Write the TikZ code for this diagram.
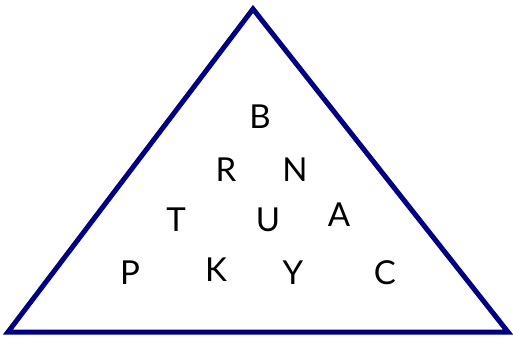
\documentclass[tikz,border=0pt]{standalone}
\usepackage{fontspec}
\setmainfont{Lato}
\definecolor{navyline}{RGB}{0,0,128}
\begin{document}
\begin{tikzpicture}[x=1pt,y=-1pt,
  letter/.style={font=\fontsize{33}{33}\selectfont, inner sep=0pt, anchor=center, text=black}]
\useasboundingbox[fill=white] (0,0) rectangle (513,339);
\coordinate (top) at (253,9);
\coordinate (bl) at (8,332);
\coordinate (br) at (508,332);
\draw[navyline, line width=5pt, line join=miter] (top) -- (br) -- (bl) -- cycle;
\node[letter] (B) at (260,117) {B};
\node[letter] (R) at (226,170) {R};
\node[letter] (N) at (295,170) {N};
\node[letter] (T) at (176,220) {T};
\node[letter] (U) at (268,220) {U};
\node[letter] (A) at (339,215) {A};
\node[letter] (P) at (130,273) {P};
\node[letter] (K) at (216,270) {K};
\node[letter] (Y) at (293,273) {Y};
\node[letter] (C) at (385,273) {C};
\end{tikzpicture}
\end{document}
